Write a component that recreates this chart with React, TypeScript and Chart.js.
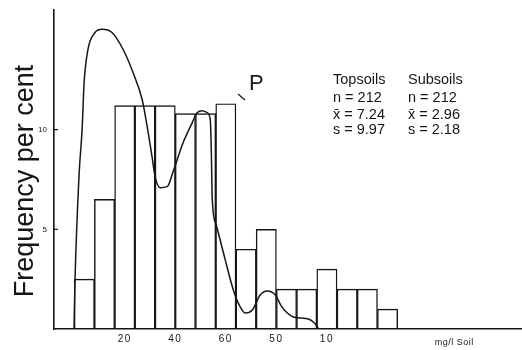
import { useEffect, useRef } from "react";
import { Chart, registerables } from "chart.js";

Chart.register(...registerables);

// Histogram classes (class width = 1 axis unit, first class starts at 1)
const classStart = [1, 2, 3, 4, 5, 6, 7, 8, 9, 10, 11, 12, 13, 14, 15, 16];
const classFrequency = [2.5, 6.5, 11.2, 11.2, 11.2, 10.8, 10.8, 11.3, 4.0, 5.0, 2.0, 2.0, 3.0, 2.0, 2.0, 1.0];

// Fitted distribution curve
const curveX = [
  0.99, 1.04, 1.24, 1.39, 1.49, 1.68, 2.03, 2.38, 2.87, 3.42, 3.91, 4.36, 4.61, 4.85, 5.0, 5.25,
  5.6, 5.89, 6.39, 6.84, 7.08, 7.33, 7.58, 7.73, 7.78, 7.83, 8.02, 8.47, 8.87, 9.21, 9.46, 9.81,
  10.2, 10.55, 10.95, 11.24, 11.54, 11.84, 12.18, 12.58, 12.83, 13.03, 13.08,
];
const curveY = [
  0, 2.46, 7.74, 10.0, 12.36, 14.02, 14.87, 15.03, 14.87, 14.02, 12.86, 11.51, 10.15, 8.64, 7.64, 7.09,
  7.14, 7.89, 9.35, 10.35, 10.85, 10.95, 10.85, 10.5, 9.0, 6.48, 5.23, 3.47, 1.96, 1.11, 0.8, 0.95,
  1.71, 1.91, 1.71, 1.16, 0.8, 0.6, 0.55, 0.5, 0.35, 0.1, 0,
];

// Axis labelling
const xTickPositions = [3.5, 6, 8.5, 11, 13.5];
const xTickLabels = ["20", "40", "60", "50", "10"];
const yTickValues = [5, 10];
const yTickLabels = ["5", "10"];
const xUnitLabel = "mg/l Soil";
const xUnitPosition = 19.8;
const yTitle = "Frequency per cent";

// Summary statistics
const statHeaders = ["Topsoils", "Subsoils"];
const statRows = [
  ["n = 212", "n = 212"],
  ["x\u0304 = 7.24", "x\u0304 = 2.96"],
  ["s = 9.97", "s = 2.18"],
];
const curveTag = "P";

const INK = "#161616";
const SANS = '"Liberation Sans", Arial, sans-serif';

const decorations = {
  id: "decorations",
  afterDraw(chart: any) {
    const { ctx, scales } = chart;
    const xs = scales.x;
    const ys = scales.y;
    const left = chart.chartArea.left;
    const bottom = chart.chartArea.bottom;
    ctx.save();
    ctx.fillStyle = INK;
    ctx.strokeStyle = INK;

    // y ticks: short marks inside the axis plus tiny labels
    ctx.lineWidth = 1.2;
    ctx.font = `8px ${SANS}`;
    ctx.textAlign = "right";
    ctx.textBaseline = "middle";
    yTickValues.forEach((v, i) => {
      const py = ys.getPixelForValue(v);
      ctx.beginPath();
      ctx.moveTo(left, py);
      ctx.lineTo(left + 4, py);
      ctx.stroke();
      ctx.fillText(yTickLabels[i], left - 7, py);
    });

    // x tick labels
    ctx.font = `10px ${SANS}`;
    ctx.textAlign = "center";
    ctx.textBaseline = "middle";
    try {
      (ctx as any).letterSpacing = "1.5px";
    } catch (e) {}
    xTickPositions.forEach((v, i) => {
      ctx.fillText(xTickLabels[i], xs.getPixelForValue(v), bottom + 10);
    });
    try {
      (ctx as any).letterSpacing = "0.5px";
    } catch (e) {}
    ctx.font = `9px ${SANS}`;
    ctx.fillText(xUnitLabel, xs.getPixelForValue(xUnitPosition), bottom + 14);
    try {
      (ctx as any).letterSpacing = "0px";
    } catch (e) {}

    // y axis title
    ctx.save();
    ctx.translate(33, 181);
    ctx.rotate(-Math.PI / 2);
    ctx.font = `27px ${SANS}`;
    ctx.textAlign = "center";
    ctx.textBaseline = "alphabetic";
    ctx.fillText(yTitle, 0, 0);
    ctx.restore();

    // curve tag with its leader stroke
    ctx.font = `22px ${SANS}`;
    ctx.textAlign = "left";
    ctx.textBaseline = "alphabetic";
    ctx.fillText(curveTag, 249, 90);
    ctx.lineWidth = 1.2;
    ctx.beginPath();
    ctx.moveTo(238, 94);
    ctx.lineTo(245, 100);
    ctx.stroke();

    // statistics table
    ctx.font = `14.5px ${SANS}`;
    ctx.textBaseline = "middle";
    const colX = [333, 408];
    const rowY = [80, 98, 115, 130];
    statHeaders.forEach((h, c) => ctx.fillText(h, colX[c], rowY[0]));
    statRows.forEach((row, r) => {
      row.forEach((t, c) => ctx.fillText(t, colX[c], rowY[r + 1]));
    });

    ctx.restore();
  },
};

export default function App() {
  const canvasRef = useRef<HTMLCanvasElement | null>(null);

  useEffect(() => {
    const canvas = canvasRef.current;
    if (!canvas) return;
    const chart = new Chart(canvas, {
      type: "bar",
      data: {
        datasets: [
          {
            type: "line",
            data: curveX.map((x, i) => ({ x, y: curveY[i] })),
            borderColor: INK,
            borderWidth: 1.5,
            pointRadius: 0,
            fill: false,
            cubicInterpolationMode: "monotone",
            order: 0,
          } as any,
          {
            type: "bar",
            data: classStart.map((s, i) => ({ x: s + 0.5, y: classFrequency[i] })),
            backgroundColor: "rgba(255,255,255,0)",
            borderColor: INK,
            borderWidth: 0.75,
            borderSkipped: "start",
            barPercentage: 1,
            categoryPercentage: 1,
            order: 1,
          } as any,
        ],
      },
      options: {
        animation: false,
        responsive: false,
        devicePixelRatio: 1,
        layout: { padding: { left: 54, top: 10, right: 1, bottom: 21 } },
        plugins: { legend: { display: false }, tooltip: { enabled: false } },
        scales: {
          x: {
            type: "linear",
            offset: false,
            min: 0,
            max: 23.1,
            grid: { display: false, offset: false },
            ticks: { display: false },
            border: { display: true, color: INK, width: 1.6 },
            afterFit: (s: any) => {
              s.height = 0;
            },
          },
          y: {
            type: "linear",
            min: 0,
            max: 16,
            grid: { display: false },
            ticks: { display: false },
            border: { display: true, color: INK, width: 1.6 },
            afterFit: (s: any) => {
              s.width = 0;
            },
          },
        },
      } as any,
      plugins: [decorations],
    });
    return () => chart.destroy();
  }, []);

  return (
    <div
      style={{
        position: "fixed",
        left: 0,
        top: 0,
        width: 522,
        height: 350,
        background: "#fff",
      }}
    >
      <canvas ref={canvasRef} width={522} height={350} style={{ display: "block" }} />
    </div>
  );
}
